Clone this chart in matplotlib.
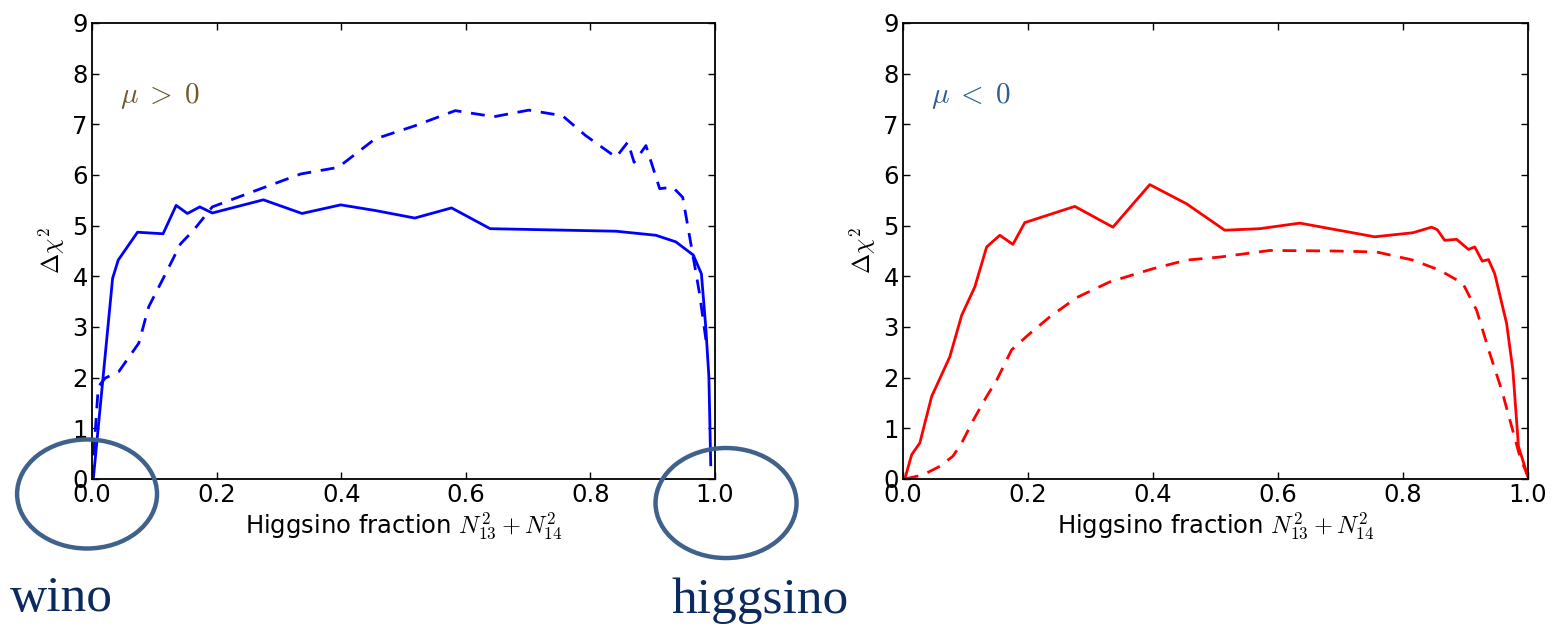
import matplotlib
matplotlib.use("Agg")
import matplotlib.pyplot as plt
from matplotlib.patches import Ellipse

# mu > 0 (left, blue)
pos_solid_x = [0.002, 0.033, 0.042, 0.073, 0.114, 0.135, 0.153, 0.173, 0.193, 0.275, 0.337,
               0.399, 0.454, 0.518, 0.577, 0.639, 0.841, 0.905, 0.937, 0.965, 0.978, 0.985,
               0.990, 0.993]
pos_solid_y = [0.0, 3.96, 4.32, 4.87, 4.84, 5.40, 5.24, 5.37, 5.25, 5.51, 5.24,
               5.41, 5.30, 5.15, 5.35, 4.94, 4.89, 4.81, 4.68, 4.42, 4.05, 3.0,
               2.02, 0.28]
pos_dash_x = [0.0, 0.010, 0.021, 0.043, 0.075, 0.091, 0.118, 0.142, 0.163, 0.193, 0.271,
              0.335, 0.395, 0.454, 0.518, 0.583, 0.645, 0.701, 0.755, 0.792, 0.841, 0.860,
              0.870, 0.889, 0.911, 0.932, 0.948, 0.962, 0.975, 0.986, 0.995]
pos_dash_y = [0.0, 1.82, 1.99, 2.12, 2.68, 3.40, 4.05, 4.64, 4.91, 5.37, 5.73,
              6.02, 6.15, 6.71, 6.97, 7.27, 7.15, 7.28, 7.17, 6.78, 6.35, 6.65,
              6.25, 6.58, 5.73, 5.76, 5.56, 4.58, 3.66, 2.68, 2.65]

# mu < 0 (right, red)
neg_solid_x = [0.003, 0.014, 0.027, 0.046, 0.075, 0.094, 0.115, 0.134, 0.155, 0.176, 0.195,
               0.275, 0.336, 0.395, 0.454, 0.515, 0.571, 0.635, 0.755, 0.816, 0.846, 0.855,
               0.867, 0.886, 0.905, 0.915, 0.927, 0.937, 0.947, 0.966, 0.976, 0.985, 1.0]
neg_solid_y = [0.0, 0.48, 0.71, 1.63, 2.41, 3.23, 3.79, 4.58, 4.81, 4.63, 5.06,
               5.38, 4.97, 5.81, 5.43, 4.91, 4.94, 5.05, 4.78, 4.86, 4.97, 4.92,
               4.71, 4.73, 4.53, 4.58, 4.30, 4.33, 4.05, 3.07, 2.15, 0.64, 0.05]
neg_dash_x = [0.003, 0.032, 0.059, 0.080, 0.094, 0.113, 0.134, 0.150, 0.174, 0.203, 0.235,
              0.278, 0.331, 0.400, 0.454, 0.507, 0.587, 0.689, 0.758, 0.816, 0.859, 0.896,
              0.918, 0.939, 0.958, 0.974, 0.987, 1.0]
neg_dash_y = [0.0, 0.08, 0.25, 0.45, 0.71, 1.17, 1.63, 1.95, 2.55, 2.87, 3.20,
              3.58, 3.89, 4.15, 4.32, 4.38, 4.51, 4.50, 4.48, 4.32, 4.12, 3.86,
              3.33, 2.48, 1.76, 1.04, 0.45, 0.05]

xticks = [0.0, 0.2, 0.4, 0.6, 0.8, 1.0]
yticks = list(range(10))

plt.rcParams['font.family'] = ['DejaVu Sans']
plt.rcParams['mathtext.fontset'] = 'cm'

fig = plt.figure(figsize=(15.6, 6.28), dpi=100)
ax1 = fig.add_axes([0.0590, 0.2373, 0.3994, 0.7261])
ax2 = fig.add_axes([0.5788, 0.2373, 0.4006, 0.7261])

panels = [
    (ax1, pos_solid_x, pos_solid_y, pos_dash_x, pos_dash_y, 'blue', r'$\mu\;>\;0$', '#6e5a2c'),
    (ax2, neg_solid_x, neg_solid_y, neg_dash_x, neg_dash_y, 'red', r'$\mu\;<\;0$', '#2b5f8f'),
]

for ax, sx, sy, dx, dy, col, lab, lab_col in panels:
    ax.plot(sx, sy, color=col, lw=2.0)
    ax.plot(dx, dy, color=col, lw=2.0, dashes=(5, 3.5))
    ax.set_xlim(0, 1)
    ax.set_ylim(0, 9)
    ax.set_xticks(xticks)
    ax.set_xticklabels(['%.1f' % t for t in xticks])
    ax.set_yticks(yticks)
    ax.tick_params(direction='in', length=5, width=1, top=True, right=True,
                   labelsize=17.5, pad=3)
    for s in ax.spines.values():
        s.set_linewidth(1.3)
    ax.set_xlabel(r'Higgsino fraction $N_{13}^2+N_{14}^2$', fontsize=17.5, labelpad=2)
    ax.set_ylabel(r'$\Delta\chi^2$', fontsize=17.5, labelpad=4)
    ax.text(0.045, 7.42, lab, fontsize=21, color=lab_col)

# circles marking the pure wino / pure higgsino ends
ring = '#3f618b'
fig.add_artist(Ellipse((0.0558, 0.2134), 0.0897, 0.1736, fill=False,
                       edgecolor=ring, lw=3.2, transform=fig.transFigure))
fig.add_artist(Ellipse((0.4654, 0.1990), 0.0904, 0.1752, fill=False,
                       edgecolor=ring, lw=3.2, transform=fig.transFigure))

fig.text(10 / 1560, 1 - 611 / 628, 'wino', fontsize=37, color='#0b2a5e',
         family=['Liberation Serif', 'DejaVu Serif'])
fig.text(671 / 1560, 1 - 613 / 628, 'higgsino', fontsize=37, color='#0b2a5e',
         family=['Liberation Serif', 'DejaVu Serif'])

fig.savefig('out.png', dpi=100)
